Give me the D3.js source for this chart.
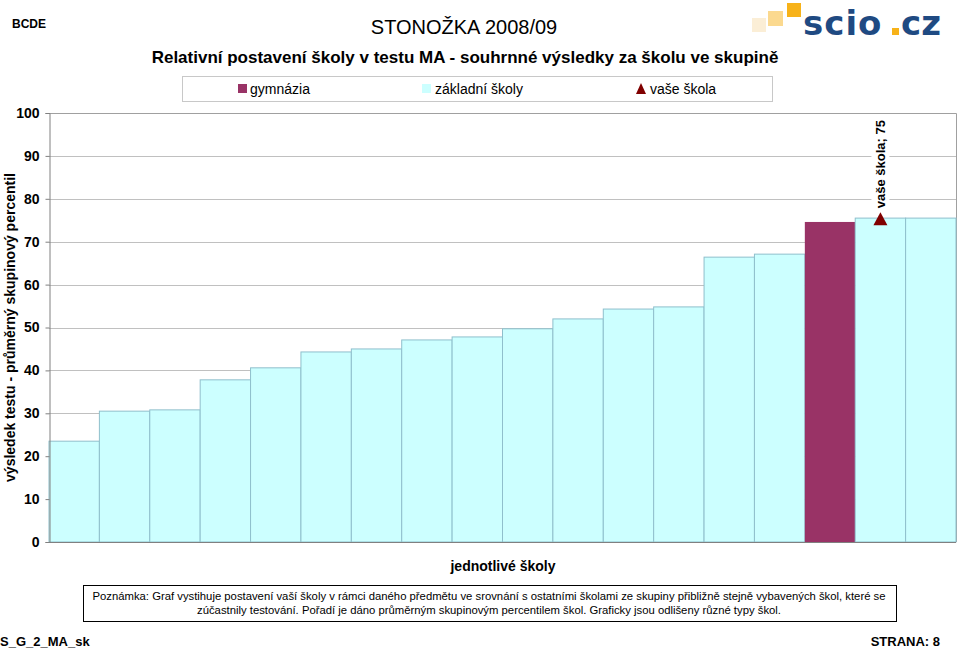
<!DOCTYPE html>
<html>
<head>
<meta charset="utf-8">
<script src="https://cdn.jsdelivr.net/npm/d3@7"></script>
<style>
body { margin: 0; background: #fff; }
text { font-family: "Liberation Sans", Arial, sans-serif; }
</style>
</head>
<body>
<svg id="chart" width="960" height="649"></svg>
<script>
// values, sorted ascending
var schools = d3.range(1, 19).map(function(i){ return "s" + i; });
var values = [23.5, 30.5, 30.8, 37.8, 40.6, 44.3, 45.0, 47.1, 47.8, 49.7, 52.0, 54.3, 54.8, 66.4, 67.1, 74.6, 75.5, 75.5];
var types = ["zs","zs","zs","zs","zs","zs","zs","zs","zs","zs","zs","zs","zs","zs","zs","gym","zs","zs"];
var yTicks = [0, 10, 20, 30, 40, 50, 60, 70, 80, 90, 100];
var ourSchool = { index: 16, value: 75 };
var legendItems = ["gymnázia", "základní školy", "vaše škola"];

var colors = { gym: "#993366", zs: "#ccffff" };

var svg = d3.select("#chart");
var plot = { left: 49, right: 956, top: 113, bottom: 542 };

var x = d3.scaleBand()
    .domain(schools)
    .range([plot.left, plot.right])
    .padding(0);

var y = d3.scaleLinear()
    .domain([0, 100])
    .range([plot.bottom, plot.top]);

// header
svg.append("text").attr("x", 12).attr("y", 28)
    .style("font-size", "12px").style("font-weight", "bold")
    .text("BCDE");

svg.append("text").attr("x", 464).attr("y", 34)
    .attr("text-anchor", "middle")
    .style("font-size", "20px")
    .text("STONOŽKA 2008/09");

svg.append("text").attr("x", 465).attr("y", 63)
    .attr("text-anchor", "middle")
    .style("font-size", "17px").style("font-weight", "bold")
    .text("Relativní postavení školy v testu MA - souhrnné výsledky za školu  ve skupině");

// logo
var logo = svg.append("g");
logo.append("rect").attr("x", 752).attr("y", 18).attr("width", 14).attr("height", 14).attr("fill", "#fbeed6");
logo.append("rect").attr("x", 768).attr("y", 11).attr("width", 15).attr("height", 15).attr("fill", "#fbd98f");
logo.append("rect").attr("x", 787).attr("y", 3).attr("width", 14).attr("height", 14).attr("fill", "#f7b219");
logo.append("text").attr("x", 803).attr("y", 35)
    .style("font-size", "34px").style("font-weight", "bold")
    .style("font-family", "'DejaVu Sans', sans-serif")
    .style("letter-spacing", "1px")
    .attr("fill", "#1f4a82")
    .text("scio");
logo.append("rect").attr("x", 892).attr("y", 28).attr("width", 7).attr("height", 7).attr("fill", "#f7b219");
logo.append("text").attr("x", 901).attr("y", 35)
    .style("font-size", "34px").style("font-weight", "bold")
    .style("font-family", "'DejaVu Sans', sans-serif")
    .attr("fill", "#1f4a82")
    .text("cz");

// legend
svg.append("rect").attr("x", 182.5).attr("y", 76.5).attr("width", 590).attr("height", 25)
    .attr("fill", "#fff").attr("stroke", "#c8c8c8");
var lg = svg.append("g").style("font-size", "14px");
lg.append("rect").attr("x", 238).attr("y", 84).attr("width", 9).attr("height", 9).attr("fill", colors.gym);
lg.append("text").attr("x", 250).attr("y", 94).text(legendItems[0]);
lg.append("rect").attr("x", 422).attr("y", 84).attr("width", 9).attr("height", 9).attr("fill", colors.zs);
lg.append("text").attr("x", 435).attr("y", 94).text(legendItems[1]);
lg.append("path").attr("d", "M641,83 L646,94 L636,94 Z").attr("fill", "#800000");
lg.append("text").attr("x", 650).attr("y", 94).text(legendItems[2]);

// gridlines
svg.append("g").selectAll("line")
    .data(yTicks.slice(1))
    .join("line")
    .attr("x1", plot.left).attr("x2", plot.right)
    .attr("y1", function(d){ return Math.round(y(d)) + 0.5; })
    .attr("y2", function(d){ return Math.round(y(d)) + 0.5; })
    .attr("stroke", "#c0c0c0")
    .attr("stroke-width", 1);

// frame top/right
svg.append("path")
    .attr("d", "M" + plot.left + "," + (plot.top + 0.5) + " H" + (plot.right + 0.5) + " V" + plot.bottom)
    .attr("fill", "none").attr("stroke", "#a0a0a0");

// bars
svg.append("g").selectAll("rect")
    .data(values)
    .join("rect")
    .attr("x", function(d, i){ return x(schools[i]); })
    .attr("y", function(d){ return y(d); })
    .attr("width", x.bandwidth())
    .attr("height", function(d){ return y(0) - y(d); })
    .attr("fill", function(d, i){ return colors[types[i]]; })
    .attr("stroke", function(d, i){ return types[i] == "gym" ? "none" : "#8fbfcc"; })
    .attr("stroke-width", 1);

// y axis
var yAxis = svg.append("g")
    .attr("transform", "translate(" + (plot.left + 0.5) + ",0)")
    .call(d3.axisLeft(y).tickValues(yTicks).tickSize(4).tickPadding(6));
yAxis.select(".domain").attr("stroke", "#808080");
yAxis.selectAll(".tick line").attr("stroke", "#808080");
yAxis.selectAll("text")
    .style("font-size", "14px").style("font-weight", "bold")
    .style("font-family", "'Liberation Sans', Arial, sans-serif")
    .attr("fill", "#000");

// x axis baseline
svg.append("line")
    .attr("x1", plot.left).attr("x2", plot.right)
    .attr("y1", plot.bottom + 0.5).attr("y2", plot.bottom + 0.5)
    .attr("stroke", "#808080");

// axis titles
svg.append("text")
    .attr("transform", "translate(15," + ((plot.top + plot.bottom) / 2) + ") rotate(-90)")
    .attr("text-anchor", "middle")
    .style("font-size", "14px").style("font-weight", "bold")
    .text("výsledek testu - průměrný skupinový percentil");

svg.append("text")
    .attr("x", 503).attr("y", 571)
    .attr("text-anchor", "middle")
    .style("font-size", "14px").style("font-weight", "bold")
    .text("jednotlivé školy");

// our school marker
var mx = x(schools[ourSchool.index]) + x.bandwidth() / 2;
var my = y(ourSchool.value);
svg.append("path")
    .attr("d", "M" + mx + "," + (my - 8) + " L" + (mx + 7) + "," + (my + 5) + " L" + (mx - 7) + "," + (my + 5) + " Z")
    .attr("fill", "#800000");
var lbl = svg.append("g").attr("transform", "translate(" + (mx + 5) + "," + (my - 12) + ") rotate(-90)");
lbl.append("rect").attr("x", -2).attr("y", -14).attr("width", 86).attr("height", 18).attr("fill", "#fff");
lbl.append("text").attr("x", 0).attr("y", 0)
    .style("font-size", "13px").style("font-weight", "bold")
    .text("vaše škola; " + ourSchool.value);

// note box
svg.append("rect").attr("x", 83.5).attr("y", 585.5).attr("width", 813).attr("height", 36)
    .attr("fill", "#fff").attr("stroke", "#000");
var note = svg.append("text").attr("text-anchor", "middle").style("font-size", "11.3px");
note.append("tspan").attr("x", 489).attr("y", 600)
    .text("Poznámka: Graf vystihuje postavení vaší školy v rámci daného předmětu ve srovnání s ostatními školami ze skupiny přibližně stejně vybavených škol, které se");
note.append("tspan").attr("x", 489).attr("y", 614)
    .text("zúčastnily testování. Pořadí je dáno průměrným skupinovým percentilem škol. Graficky jsou odlišeny různé typy škol.");

// footer
svg.append("text").attr("x", 0).attr("y", 646)
    .style("font-size", "13px").style("font-weight", "bold")
    .text("S_G_2_MA_sk");
svg.append("text").attr("x", 940).attr("y", 646)
    .attr("text-anchor", "end")
    .style("font-size", "13px").style("font-weight", "bold")
    .text("STRANA: 8");
</script>
</body>
</html>
